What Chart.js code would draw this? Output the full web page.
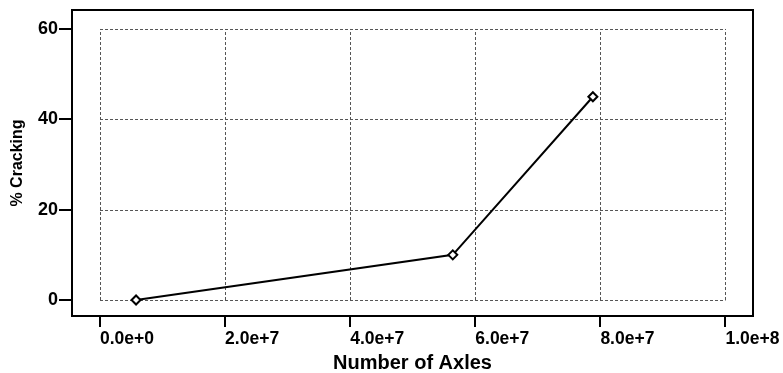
<!DOCTYPE html>
<html>
<head>
<meta charset="utf-8">
<script src="https://cdn.jsdelivr.net/npm/chart.js@4/dist/chart.umd.min.js"></script>
<style>
html,body{margin:0;padding:0;background:#fff;}
canvas{display:block;}
</style>
</head>
<body>
<canvas id="c" width="783" height="373"></canvas>
<script>
// Data
const axles = [5.76e6, 56.4e6, 78.8e6];
const cracking = [0, 10, 45];
const xTickValues = [0, 2e7, 4e7, 6e7, 8e7, 1e8];
const xTickLabels = ['0.0e+0', '2.0e+7', '4.0e+7', '6.0e+7', '8.0e+7', '1.0e+8'];
const yTickValues = [0, 20, 40, 60];
const yTickLabels = ['0', '20', '40', '60'];
const xTitle = 'Number of Axles';
const yTitle = '% Cracking';

const FONT = '"Liberation Sans", Arial, Helvetica, sans-serif';

const framePlugin = {
  id: 'frameAndGrid',
  beforeDatasetsDraw(chart) {
    const {ctx, chartArea, scales} = chart;
    const xs = scales.x, ys = scales.y;
    const x0 = xs.getPixelForValue(xTickValues[0]);
    const x1 = xs.getPixelForValue(xTickValues[xTickValues.length - 1]);
    const y0 = ys.getPixelForValue(yTickValues[0]);
    const y1 = ys.getPixelForValue(yTickValues[yTickValues.length - 1]);
    ctx.save();
    ctx.strokeStyle = '#555';
    ctx.lineWidth = 1;
    ctx.setLineDash([3, 2]);
    ctx.beginPath();
    xTickValues.forEach(v => {
      const px = Math.round(xs.getPixelForValue(v)) + 0.5;
      ctx.moveTo(px, y0); ctx.lineTo(px, y1);
    });
    yTickValues.forEach(v => {
      const py = Math.round(ys.getPixelForValue(v)) + 0.5;
      ctx.moveTo(x0, py); ctx.lineTo(x1, py);
    });
    ctx.stroke();
    ctx.setLineDash([]);
    ctx.strokeStyle = '#000';
    ctx.lineWidth = 2;
    ctx.strokeRect(chartArea.left, chartArea.top, chartArea.right - chartArea.left, chartArea.bottom - chartArea.top);
    ctx.restore();
  }
};

new Chart(document.getElementById('c'), {
  type: 'line',
  data: {
    datasets: [{
      data: axles.map((x, i) => ({x: x, y: cracking[i]})),
      borderColor: '#000',
      borderWidth: 2,
      backgroundColor: '#fff',
      pointStyle: 'rectRot',
      pointRadius: 4.5,
      pointBorderWidth: 2,
      pointBorderColor: '#000',
      pointBackgroundColor: '#fff',
      tension: 0,
      fill: false
    }]
  },
  options: {
    responsive: false,
    animation: false,
    devicePixelRatio: 1,
    layout: {padding: {left: 0, right: 30, top: 10, bottom: 0}},
    plugins: {legend: {display: false}, tooltip: {enabled: false}},
    scales: {
      x: {
        type: 'linear',
        min: -4.48e6,
        max: 104.4e6,
        afterBuildTicks: axis => { axis.ticks = xTickValues.map(v => ({value: v})); },
        afterFit: s => { s.height = 57; s.paddingLeft = 0; s.paddingRight = 0; },
        border: {display: false},
        grid: {display: true, drawOnChartArea: false, drawTicks: true, tickLength: 11, color: '#000', lineWidth: 2},
        ticks: {
          autoSkip: false, maxRotation: 0, minRotation: 0, align: 'start', padding: 2,
          color: '#000', font: {family: FONT, size: 17.5, weight: 'bold'},
          callback: (v, i) => xTickLabels[i]
        },
        title: {display: true, text: xTitle, color: '#000', font: {family: FONT, size: 20, weight: 'bold', lineHeight: 1}, padding: 0}
      },
      y: {
        type: 'linear',
        min: -3.54,
        max: 64.2,
        afterBuildTicks: axis => { axis.ticks = yTickValues.map(v => ({value: v})); },
        afterFit: s => { s.width = 72; s.paddingTop = 0; s.paddingBottom = 0; },
        border: {display: false},
        grid: {display: true, drawOnChartArea: false, drawTicks: true, tickLength: 13, color: '#000', lineWidth: 2},
        ticks: {
          autoSkip: false, padding: 1,
          color: '#000', font: {family: FONT, size: 18, weight: 'bold'},
          callback: (v, i) => yTickLabels[i]
        },
        title: {display: true, text: yTitle, color: '#000', font: {family: FONT, size: 16, weight: 'bold', lineHeight: 1.2}, padding: {top: 8, bottom: 0}}
      }
    }
  },
  plugins: [framePlugin]
});
</script>
</body>
</html>
